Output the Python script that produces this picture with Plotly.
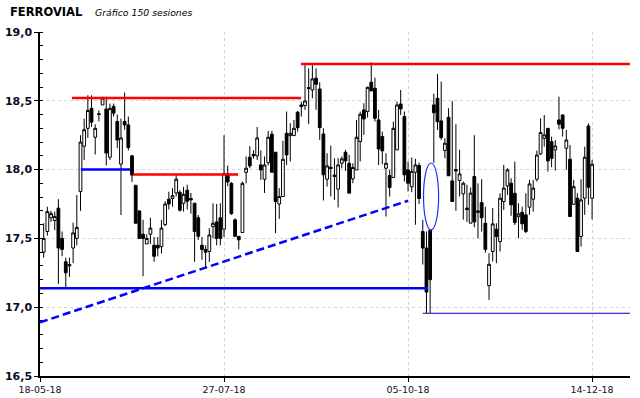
import plotly.graph_objects as go

# ---------------- data ----------------
opens = [17.40, 17.55, 17.65, 17.63, 17.72, 17.50, 17.33, 17.30, 17.43, 17.50,
         17.84, 18.17, 18.30, 18.445, 18.235, 18.40, 18.47, 18.44, 18.09, 18.46,
         18.35, 18.04, 18.35, 18.325, 18.10, 17.885, 17.70, 17.53, 17.46, 17.53,
         17.45, 17.45, 17.44, 17.60, 17.785, 17.79, 17.83, 17.835, 17.755, 17.85,
         17.79, 17.756, 17.65, 17.45, 17.42, 17.405, 17.585, 17.62, 17.65, 17.567,
         17.97, 17.90, 17.635, 17.515, 17.543, 17.98, 18.09, 18.11, 18.10, 18.034,
         17.93, 18.05, 18.257, 18.126, 17.75, 17.804, 18.264, 18.247, 18.247, 18.417,
         18.47, 18.465, 18.596, 18.579, 18.664, 18.586, 18.259, 17.93, 18.017, 17.96,
         17.858, 18.046, 18.126, 18.046, 17.933, 17.998, 18.204, 18.434, 18.422, 18.635,
         18.591, 18.361, 18.24, 18.01, 17.957, 17.942, 18.143, 18.477, 18.385, 17.998,
         17.875, 17.981, 18.03, 17.55, 17.43, 17.56, 18.47, 18.518, 18.354, 18.139,
         18.38, 17.918, 18.00, 17.921, 17.824, 17.72, 17.611, 17.95, 17.70, 17.76,
         17.61, 17.157, 17.405, 17.567, 17.477, 17.768, 17.881, 17.901, 17.828, 17.658,
         17.69, 17.671, 17.727, 17.785, 17.93, 18.114, 18.227, 18.30, 18.203, 18.143,
         18.361, 18.397, 18.155, 18.075, 17.748, 17.792, 17.514, 17.792, 18.317, 17.792]
closes = [17.50, 17.695, 17.68, 17.66, 17.43, 17.42, 17.25, 17.31, 17.54, 17.58,
          18.20, 18.29, 18.43, 18.345, 18.30, 18.405, 18.52, 18.12, 18.445, 18.41,
          18.215, 18.23, 18.325, 18.16, 17.96, 17.61, 17.50, 17.50, 17.50, 17.575,
          17.37, 17.43, 17.575, 17.75, 17.75, 17.81, 17.93, 17.705, 17.82, 17.77,
          17.78, 17.55, 17.515, 17.42, 17.40, 17.525, 17.61, 17.50, 17.50, 17.97,
          17.91, 17.68, 17.515, 17.49, 17.90, 18.01, 18.027, 18.10, 18.23, 17.998,
          18.034, 18.235, 17.981, 17.768, 17.804, 18.075, 18.107, 18.264, 18.30, 18.305,
          18.458, 18.499, 18.59, 18.659, 18.62, 18.305, 17.962, 18.027, 18.008, 17.95,
          18.034, 18.078, 18.063, 17.829, 18.015, 18.235, 18.402, 18.368, 18.598, 18.572,
          18.373, 18.15, 18.136, 18.046, 17.87, 18.30, 18.47, 18.441, 17.962, 17.901,
          17.987, 18.034, 17.79, 17.43, 17.11, 17.20, 18.413, 18.348, 18.233, 18.192,
          17.955, 17.768, 17.99, 17.969, 17.901, 17.71, 17.829, 17.62, 17.69, 17.65,
          17.42, 17.312, 17.605, 17.514, 17.792, 17.865, 17.998, 17.744, 17.615, 17.678,
          17.606, 17.55, 17.896, 17.865, 18.106, 18.269, 18.252, 18.063, 18.082, 18.172,
          18.33, 18.30, 18.215, 17.659, 17.876, 17.405, 17.78, 18.09, 17.872, 18.039]
highs = [17.61, 17.73, 17.70, 17.695, 17.785, 17.55, 17.36, 17.36, 17.615, 17.815,
         18.25, 18.37, 18.54, 18.54, 18.33, 18.43, 18.53, 18.53, 18.48, 18.48,
         18.40, 18.37, 18.56, 18.385, 18.107, 17.89, 17.70, 17.635, 17.53, 17.65,
         17.51, 17.51, 17.635, 17.77, 17.84, 17.865, 17.96, 17.85, 17.875, 17.89,
         17.83, 17.756, 17.67, 17.51, 17.45, 17.575, 17.755, 17.75, 17.755, 18.25,
         18.03, 17.91, 17.646, 17.515, 17.913, 18.095, 18.17, 18.14, 18.31, 18.14,
         18.095, 18.281, 18.281, 18.126, 17.865, 18.209, 18.422, 18.337, 18.361, 18.426,
         18.494, 18.76, 18.736, 18.765, 18.736, 18.635, 18.30, 18.119, 18.175, 18.083,
         18.083, 18.095, 18.143, 18.107, 18.046, 18.361, 18.422, 18.482, 18.603, 18.78,
         18.668, 18.434, 18.276, 18.119, 17.998, 18.349, 18.494, 18.579, 18.422, 18.058,
         18.088, 18.078, 18.05, 17.635, 17.55, 17.56, 18.552, 18.695, 18.64, 18.228,
         18.446, 18.499, 18.33, 18.143, 17.913, 17.89, 17.87, 18.25, 17.90, 17.93,
         17.73, 17.392, 17.72, 17.61, 17.828, 18.034, 18.01, 17.937, 18.058, 17.756,
         17.731, 17.828, 17.925, 17.925, 18.138, 18.373, 18.397, 18.30, 18.24, 18.215,
         18.53, 18.402, 18.288, 18.179, 17.925, 17.828, 17.93, 18.167, 18.336, 18.07]
lows = [17.36, 17.52, 17.62, 17.56, 17.17, 17.37, 17.14, 17.22, 17.32, 17.45,
        17.70, 18.07, 18.23, 18.31, 18.11, 18.35, 18.47, 18.03, 18.07, 18.385,
        18.155, 17.67, 18.29, 18.14, 17.91, 17.61, 17.50, 17.225, 17.46, 17.46,
        17.33, 17.37, 17.39, 17.59, 17.71, 17.73, 17.805, 17.695, 17.695, 17.71,
        17.68, 17.33, 17.49, 17.345, 17.285, 17.33, 17.50, 17.45, 17.45, 17.51,
        17.88, 17.67, 17.515, 17.42, 17.543, 17.90, 18.01, 18.08, 18.07, 17.925,
        17.83, 18.03, 17.981, 17.538, 17.642, 17.804, 18.034, 18.059, 18.247, 18.276,
        18.385, 18.434, 18.33, 18.518, 18.434, 18.216, 17.775, 17.877, 17.805, 17.78,
        17.725, 18.01, 17.991, 17.829, 17.901, 17.998, 18.059, 18.252, 18.378, 18.572,
        18.349, 18.034, 18.039, 17.659, 17.804, 17.942, 18.143, 18.397, 17.913, 17.841,
        17.836, 17.599, 17.75, 17.31, 16.956, 16.956, 18.048, 18.288, 18.216, 18.083,
        17.955, 17.768, 17.70, 17.805, 17.636, 17.62, 17.611, 17.58, 17.50, 17.55,
        17.396, 17.053, 17.332, 17.32, 17.405, 17.707, 17.816, 17.664, 17.598, 17.501,
        17.562, 17.538, 17.671, 17.695, 17.913, 18.106, 18.167, 17.985, 18.017, 17.993,
        18.293, 18.24, 17.998, 17.659, 17.744, 17.405, 17.441, 17.671, 17.744, 17.639]
sessions = list(range(1, len(opens) + 1))

tick_pos = [0, 50, 100, 150]
tick_labels = ["18-05-18", "27-07-18", "05-10-18", "14-12-18"]

# horizontal study lines: (start session, end session, level, colour, width)
h_lines = [
    (8.7, 70.9, 18.52, "#ff0000", 2.5),
    (11.1, 24.5, 18.00, "#0000ff", 2.5),
    (25.3, 53.8, 17.965, "#ff0000", 2.5),
    (70.9, 160.3, 18.767, "#ff0000", 2.5),
    (0, 105.4, 17.137, "#0000ff", 2.5),
    (104.0, 160.3, 16.956, "#0000cc", 1.2),
]
trend_x = [0, 100]
trend_y = [16.89, 17.774]
gap_x = [104.2, 108.3]
gap_y = [17.561, 18.048]

# ---------------- figure ----------------
fig = go.Figure()
fig.add_trace(go.Candlestick(
    x=sessions, open=opens, high=highs, low=lows, close=closes,
    increasing=dict(line=dict(color="black", width=1), fillcolor="white"),
    decreasing=dict(line=dict(color="black", width=1), fillcolor="black"),
    whiskerwidth=0, showlegend=False, hoverinfo="skip",
))

for x0, x1, lvl, col, w in h_lines:
    fig.add_shape(type="line", xref="x", yref="y", x0=x0, x1=x1, y0=lvl, y1=lvl,
                  line=dict(color=col, width=w))
fig.add_shape(type="line", xref="x", yref="y", x0=trend_x[0], x1=trend_x[1],
              y0=trend_y[0], y1=trend_y[1],
              line=dict(color="#0000ff", width=2.5, dash="8px,4px"))
fig.add_shape(type="circle", xref="x", yref="y", x0=gap_x[0], x1=gap_x[1],
              y0=gap_y[0], y1=gap_y[1], line=dict(color="#2030ff", width=1.2))

fig.add_annotation(xref="paper", yref="paper", x=-0.0545, y=1.058, xanchor="left",
                   yanchor="middle", showarrow=False, text="<b>FERROVIAL</b>",
                   font=dict(family="DejaVu Sans", size=11.5, color="#000000"))
fig.add_annotation(xref="paper", yref="paper", x=(93 - 40) / 590, y=1.058, xanchor="left",
                   yanchor="middle", showarrow=False, text="<i>Gráfico 150 sesiones</i>",
                   font=dict(family="DejaVu Sans", size=9.3, color="#000000"))

fig.update_layout(
    width=640, height=398,
    margin=dict(l=40, r=10, t=32, b=22, autoexpand=False),
    paper_bgcolor="white", plot_bgcolor="white",
    showlegend=False,
    boxgap=0.25, boxgroupgap=0.0,
    xaxis=dict(
        range=[0, 160.3], rangeslider=dict(visible=False), automargin=False,
        tickvals=tick_pos, ticktext=tick_labels,
        ticks="outside", ticklen=4, tickcolor="black",
        showline=True, linecolor="black", linewidth=1.5,
        showgrid=True, gridcolor="#d4d4d4", griddash="dot", gridwidth=1,
        zeroline=False,
        tickfont=dict(family="DejaVu Sans", size=9.5, color="#101030"),
    ),
    yaxis=dict(
        range=[16.5, 19.0], tickvals=[16.5, 17.0, 17.5, 18.0, 18.5, 19.0], automargin=False,
        ticktext=["16,5", "17,0", "17,5", "18,0", "18,5", "19,0"],
        ticks="outside", ticklen=4, tickcolor="black",
        showline=True, linecolor="black", linewidth=1.5,
        showgrid=True, gridcolor="#d4d4d4", griddash="dot", gridwidth=1,
        zeroline=False,
        minor=dict(dtick=0.1, ticks="inside", ticklen=3, tickcolor="black", showgrid=False),
        tickfont=dict(family="DejaVu Sans", size=11, color="#0a0a28", weight="bold"),
    ),
)

# remove the browser's default 8px body margin so the figure sits at the page corner
fig.write_html("out.html", config={"displayModeBar": False},
               post_script="document.body.style.margin='0px';")
